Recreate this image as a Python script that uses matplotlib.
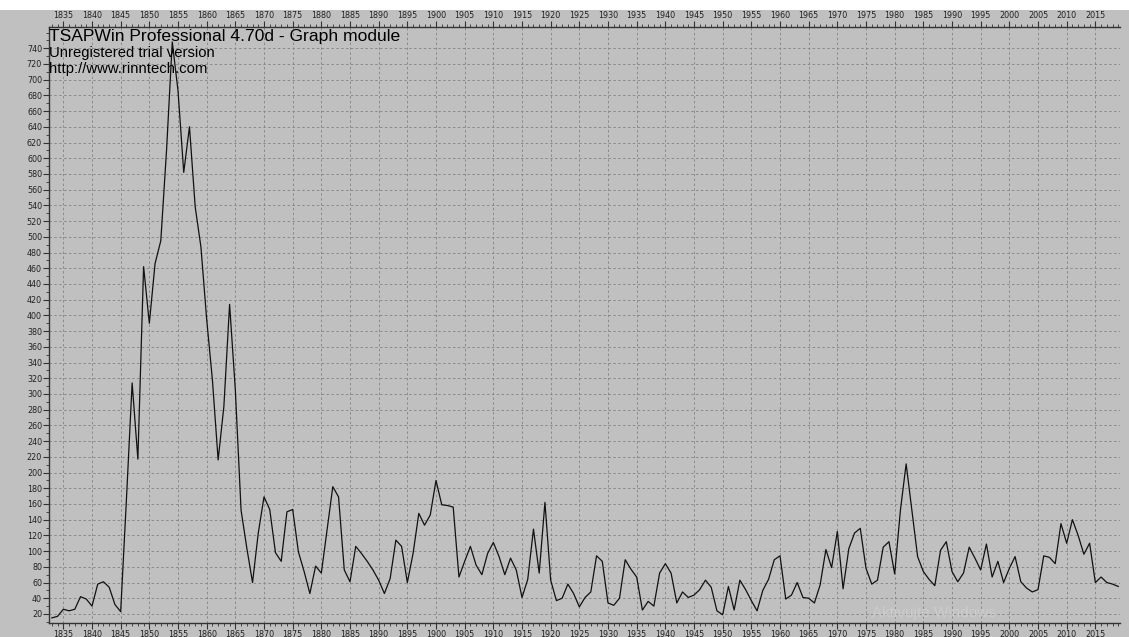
import numpy as np
import matplotlib
matplotlib.use("Agg")
import matplotlib.pyplot as plt
from matplotlib.ticker import MultipleLocator, FixedLocator

# tree-ring series, one value per year 1833-2019
years = np.arange(1833, 2020)
values = [
    15, 17, 26, 24, 26, 42, 39, 30, 58, 61, 54, 32, 23,            # 1833-1845
    165, 314, 217, 462, 390, 466, 495, 610, 748, 686, 582, 640,    # 1846-1857
    538, 487, 395, 318, 216, 284, 414, 305, 152, 104, 60, 123,     # 1858-1869
    169, 153, 98, 87, 150, 153, 99, 74, 46, 81, 72, 127,           # 1870-1881
    182, 169, 76, 61, 106, 97, 87, 76, 63, 46, 65, 114,            # 1882-1893
    106, 60, 97, 148, 133, 146, 190, 159, 158, 156, 67, 87,        # 1894-1905
    106, 82, 70, 97, 111, 93, 70, 91, 76, 41, 64, 128,             # 1906-1917
    72, 162, 63, 37, 40, 58, 46, 29, 41, 48, 94, 87,               # 1918-1929
    34, 31, 40, 89, 77, 67, 25, 36, 30, 72, 84, 72,                # 1930-1941
    34, 48, 41, 44, 51, 63, 54, 24, 19, 55, 25, 63,                # 1942-1953
    51, 37, 24, 50, 64, 89, 94, 39, 44, 60, 41, 40,                # 1954-1965
    34, 57, 102, 79, 125, 52, 103, 123, 129, 78, 58, 63,           # 1966-1977
    105, 112, 71, 152, 211, 152, 93, 74, 64, 56, 101, 112,         # 1978-1989
    74, 61, 72, 105, 91, 76, 109, 67, 87, 60, 78, 93,              # 1990-2001
    61, 53, 48, 51, 94, 92, 84, 135, 110, 140, 120, 96,            # 2002-2013
    110, 60, 67, 60, 58, 55,                                       # 2014-2019
]
ytick_vals = list(range(20, 741, 20))

bg = "#c0c0c0"
fig = plt.figure(figsize=(11.29, 6.37), dpi=100, facecolor=bg)
fig.patches.append(plt.Rectangle((0, 1 - 10 / 637), 1, 10 / 637, transform=fig.transFigure,
                                 facecolor="white", edgecolor="none", zorder=0))
ax = fig.add_axes([49 / 1129, 14 / 637, (1120 - 49) / 1129, (623 - 27) / 637])
ax.set_facecolor(bg)

ax.plot(years, values, color="#111111", linewidth=0.9)

ax.set_xlim(1832.5, 2019.3)
ax.set_ylim(8.5, 767)
ax.xaxis.set_major_locator(MultipleLocator(5))
ax.xaxis.set_minor_locator(MultipleLocator(1))
ax.yaxis.set_major_locator(FixedLocator(ytick_vals))
ax.yaxis.set_minor_locator(MultipleLocator(10))
ax.grid(True, which="major", color="#8a8a8a", linestyle=(0, (2.5, 2.5)), linewidth=0.7)

ax.tick_params(axis="x", which="both", top=True, labeltop=True, bottom=True, labelbottom=True,
               direction="out", labelsize=5.8, labelcolor="#222222", color="#333333", pad=1)
ax.tick_params(axis="x", which="major", length=4)
ax.tick_params(axis="x", which="minor", length=2)
ax.tick_params(axis="y", which="both", direction="out", labelsize=5.8, labelcolor="#222222",
               color="#333333", pad=1)
ax.tick_params(axis="y", which="major", length=4)
ax.tick_params(axis="y", which="minor", length=2)

for s in ["left", "top", "bottom"]:
    ax.spines[s].set_color("#333333")
    ax.spines[s].set_linewidth(1.0)
ax.spines["right"].set_visible(False)

ax.text(0.0, 0.997, "TSAPWin Professional 4.70d - Graph module", transform=ax.transAxes,
        ha="left", va="top", fontsize=12.6, family="Liberation Sans", color="black")
ax.text(0.0, 0.968, "Unregistered trial version", transform=ax.transAxes,
        ha="left", va="top", fontsize=10.7, family="Liberation Sans", color="black")
ax.text(0.0, 0.941, "http://www.rinntech.com", transform=ax.transAxes,
        ha="left", va="top", fontsize=10.7, family="Liberation Sans", color="black")

fig.text(872 / 1129, 1 - 613 / 637, "Aktivujte Windows", fontsize=11, color="#cccccc",
         family="Liberation Sans", ha="left", va="center")

fig.savefig("out.png", dpi=100, facecolor=bg)
